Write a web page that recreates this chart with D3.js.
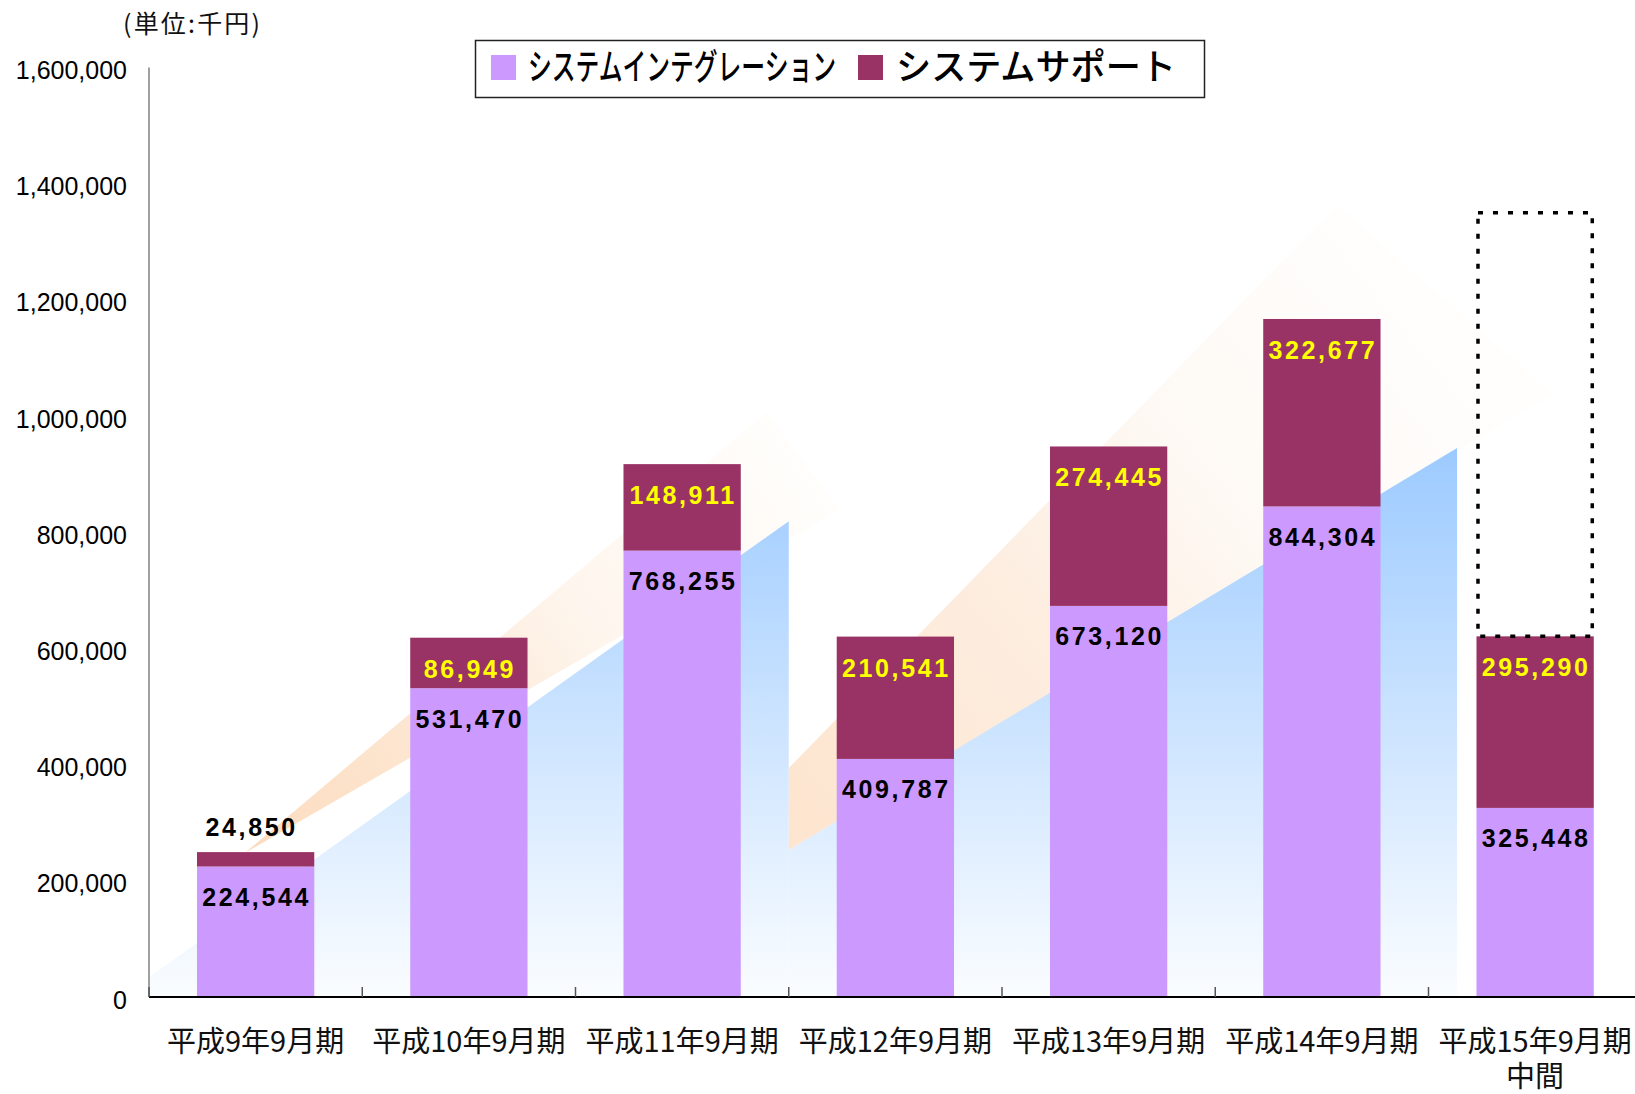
<!doctype html>
<html>

<head>
    <meta charset="UTF-8">
    <title>売上高推移</title>
    <script src="https://d3js.org/d3.v7.min.js"></script>
    <style>
        body { margin: 0; background: #fff; }
    </style>
</head>

<body>
    <script>
        // data
        var categories = [
            ["平成9年9月期"], ["平成10年9月期"], ["平成11年9月期"], ["平成12年9月期"],
            ["平成13年9月期"], ["平成14年9月期"], ["平成15年9月期", "中間"]
        ];
        var integration = [224544, 531470, 768255, 409787, 673120, 844304, 325448];
        var support = [24850, 86949, 148911, 210541, 274445, 322677, 295290];
        var forecastTotal = [null, null, null, null, null, null, 1350000]; // dotted box (full-year outlook)
        var yTicks = [0, 200000, 400000, 600000, 800000, 1000000, 1200000, 1400000, 1600000];
        var seriesNames = ["システムインテグレーション", "システムサポート"];
        var unitLabel = "(単位:千円)";

        // background trend arrows, in [category position, value]
        var blueTrend1 = [[0, 34000], [3, 819000], [3, 0], [0, 0]];
        var blueTrend2 = [[3, 253000], [6.134, 945000], [6.134, 0], [3, 0]];
        var orangeBand1 = [[0.45, 248000], [2.898, 1007000], [3.24, 838000]];
        var orangeBand2 = [[3, 253000], [3, 394000], [5.571, 1363000], [6.584, 1038000]];

        var width = 1635;
        var height = 1094;
        var plotLeft = 149, plotRight = 1641.75, plotTop = 67.4, plotBottom = 997;
        var colors = ["#cc99ff", "#993366"];

        var svg = d3.select("body").append("svg")
            .attr("width", width)
            .attr("height", height)
            .style("display", "block")
            .style("background", "#fff");

        var x = d3.scaleBand()
            .domain(d3.range(categories.length))
            .range([plotLeft, plotRight])
            .paddingInner(0.45)
            .paddingOuter(0.225);

        var xu = d3.scaleLinear().domain([0, categories.length]).range([plotLeft, plotRight]);

        var y = d3.scaleLinear()
            .domain([0, 1600000])
            .range([plotBottom, plotTop]);

        var defs = svg.append("defs");
        var blueGrad = defs.append("linearGradient")
            .attr("id", "blueGrad")
            .attr("gradientUnits", "userSpaceOnUse")
            .attr("x1", 0).attr("x2", 0).attr("y1", 445).attr("y2", 1000);
        blueGrad.append("stop").attr("offset", 0).attr("stop-color", "#9ccaff");
        blueGrad.append("stop").attr("offset", 1).attr("stop-color", "#fbfdff");

        var og1 = defs.append("linearGradient")
            .attr("id", "orangeGrad1")
            .attr("gradientUnits", "userSpaceOnUse")
            .attr("x1", 250).attr("y1", 850).attr("x2", 810).attr("y2", 450);
        og1.append("stop").attr("offset", 0).attr("stop-color", "#fcdcbf");
        og1.append("stop").attr("offset", 0.35).attr("stop-color", "#fde8d5");
        og1.append("stop").attr("offset", 0.6).attr("stop-color", "#fef6ee");
        og1.append("stop").attr("offset", 1).attr("stop-color", "#fffefc");

        var og2 = defs.append("linearGradient")
            .attr("id", "orangeGrad2")
            .attr("gradientUnits", "userSpaceOnUse")
            .attr("x1", 790).attr("y1", 820).attr("x2", 1430).attr("y2", 300);
        og2.append("stop").attr("offset", 0).attr("stop-color", "#fde5cf");
        og2.append("stop").attr("offset", 0.4).attr("stop-color", "#fdeee1");
        og2.append("stop").attr("offset", 0.65).attr("stop-color", "#fef9f4");
        og2.append("stop").attr("offset", 1).attr("stop-color", "#fffefd");

        var poly = d3.line()
            .x(function (d) { return xu(d[0]); })
            .y(function (d) { return y(d[1]); });

        var deco = svg.append("g");
        deco.append("path").attr("d", poly(orangeBand1) + "Z").attr("fill", "url(#orangeGrad1)");
        deco.append("path").attr("d", poly(blueTrend1) + "Z").attr("fill", "url(#blueGrad)");
        deco.append("path").attr("d", poly(orangeBand2) + "Z").attr("fill", "url(#orangeGrad2)");
        deco.append("path").attr("d", poly(blueTrend2) + "Z").attr("fill", "url(#blueGrad)");

        // stacked bars
        var stacks = categories.map(function (c, i) {
            return [[0, integration[i]], [integration[i], integration[i] + support[i]]];
        });

        var bars = svg.append("g");
        stacks.forEach(function (s, i) {
            s.forEach(function (seg, k) {
                bars.append("rect")
                    .attr("x", x(i))
                    .attr("width", x.bandwidth())
                    .attr("y", y(seg[1]))
                    .attr("height", y(seg[0]) - y(seg[1]))
                    .attr("fill", colors[k]);
            });
        });

        // dotted outlook box
        forecastTotal.forEach(function (f, i) {
            if (f == null) return;
            var t = integration[i] + support[i];
            svg.append("rect")
                .attr("x", x(i) + 1.5)
                .attr("width", x.bandwidth() - 3)
                .attr("y", y(f))
                .attr("height", y(t) - y(f))
                .attr("fill", "none")
                .attr("stroke", "#000")
                .attr("stroke-width", 3.5)
                .attr("stroke-dasharray", "5,10");
        });

        // value labels
        var fmt = d3.format(",");
        var labels = svg.append("g")
            .style("font-family", "'Liberation Sans', Arial, sans-serif")
            .style("font-weight", "bold")
            .style("font-size", "25px")
            .style("letter-spacing", "2.6px")
            .attr("text-anchor", "middle");

        integration.forEach(function (v, i) {
            labels.append("text")
                .attr("x", x(i) + x.bandwidth() / 2 + 1)
                .attr("y", y(v) + 39.5)
                .attr("fill", "#000")
                .text(fmt(v));
        });
        support.forEach(function (v, i) {
            var t = integration[i] + support[i];
            var inside = y(integration[i]) - y(t) > 40;
            labels.append("text")
                .attr("x", x(i) + x.bandwidth() / 2 + (inside ? 1 : -4))
                .attr("y", inside ? y(t) + 40 : y(t) - 16)
                .attr("fill", inside ? "#ffff00" : "#000")
                .text(fmt(v));
        });

        // axes
        svg.append("line")
            .attr("x1", plotLeft).attr("x2", plotLeft)
            .attr("y1", plotTop).attr("y2", plotBottom)
            .attr("stroke", "#808080").attr("stroke-width", 1.5);

        svg.append("g")
            .selectAll("text")
            .data(yTicks)
            .enter().append("text")
            .attr("x", 127)
            .attr("y", function (d) { return y(d); })
            .attr("dy", "0.46em")
            .attr("text-anchor", "end")
            .style("font-family", "'Liberation Sans', Arial, sans-serif")
            .style("font-size", "25px")
            .attr("fill", "#000")
            .text(function (d) { return fmt(d); });

        svg.append("line")
            .attr("x1", plotLeft).attr("x2", width)
            .attr("y1", plotBottom).attr("y2", plotBottom)
            .attr("stroke", "#000").attr("stroke-width", 2);

        svg.append("g")
            .selectAll("line")
            .data(d3.range(categories.length))
            .enter().append("line")
            .attr("x1", function (d) { return xu(d); })
            .attr("x2", function (d) { return xu(d); })
            .attr("y1", plotBottom - 10).attr("y2", plotBottom)
            .attr("stroke", "#555").attr("stroke-width", 1.5);

        var catText = svg.append("g")
            .style("font-family", "'Noto Sans CJK JP', sans-serif")
            .style("font-size", "29px")
            .attr("fill", "#111")
            .attr("text-anchor", "middle");
        categories.forEach(function (lines, i) {
            lines.forEach(function (s, j) {
                catText.append("text")
                    .attr("x", x(i) + x.bandwidth() / 2)
                    .attr("y", 1042 + j * 35)
                    .attr("dy", "0.36em")
                    .text(s);
            });
        });

        svg.append("text")
            .attr("x", 123)
            .attr("y", 24)
            .attr("dy", "0.36em")
            .attr("textLength", 137)
            .attr("lengthAdjust", "spacing")
            .style("font-family", "'Noto Sans CJK JP', sans-serif")
            .style("font-size", "25px")
            .attr("fill", "#111")
            .text(unitLabel);

        // legend
        var legend = svg.append("g");
        legend.append("rect")
            .attr("x", 475.5).attr("y", 40.5)
            .attr("width", 729).attr("height", 57)
            .attr("fill", "#fff")
            .attr("stroke", "#222").attr("stroke-width", 1.5);
        var legendX = [[491, 528, 308], [858, 896, 280]];
        seriesNames.forEach(function (name, k) {
            legend.append("rect")
                .attr("x", legendX[k][0]).attr("y", 55)
                .attr("width", 25).attr("height", 25)
                .attr("fill", colors[k]);
            legend.append("text")
                .attr("x", legendX[k][1])
                .attr("y", 67)
                .attr("dy", "0.36em")
                .attr("textLength", legendX[k][2])
                .attr("lengthAdjust", "spacingAndGlyphs")
                .style("font-family", "'Noto Sans CJK JP', sans-serif")
                .style("font-size", "36px")
                .style("font-weight", "500")
                .attr("fill", "#000")
                .text(name);
        });
    </script>
</body>

</html>
